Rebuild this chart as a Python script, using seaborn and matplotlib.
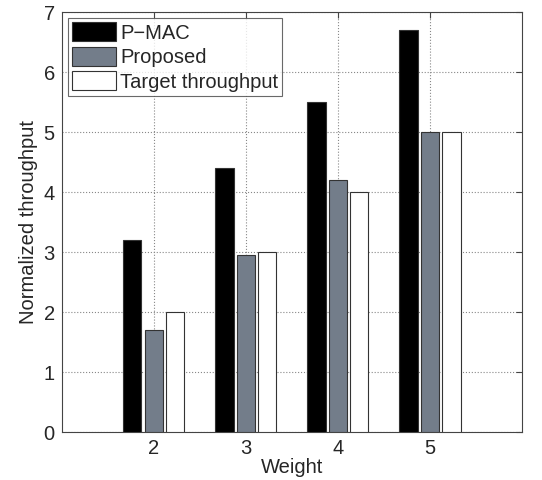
import pandas as pd
import matplotlib.pyplot as plt
import seaborn as sns

# data
weights = [2, 3, 4, 5]
pmac = [3.2, 4.4, 5.5, 6.7]
proposed = [1.7, 2.95, 4.2, 5.0]
target = [2.0, 3.0, 4.0, 5.0]
series = ["P\u2212MAC", "Proposed", "Target throughput"]
colors = ["#000000", "#6F7C8E", "#FFFFFF"]

df = pd.DataFrame({
    "Weight": weights * 3,
    "value": pmac + proposed + target,
    "series": [series[0]] * 4 + [series[1]] * 4 + [series[2]] * 4,
})

sns.set_style("white")
plt.rcParams["font.family"] = ["Liberation Sans", "DejaVu Sans"]

fig = plt.figure(figsize=(5.42, 4.8), dpi=100)
ax = fig.add_axes([0.114, 0.1, 0.849, 0.875])

sns.barplot(data=df, x="Weight", y="value", hue="series", palette=colors,
            native_scale=True, width=0.7, gap=0.15, edgecolor="#333333",
            linewidth=0.8, ax=ax, zorder=3)

ax.set_xlim(1, 6)
ax.set_ylim(0, 7)
ax.set_xticks(weights)
ax.set_yticks(range(8))
ax.grid(True, linestyle=":", color="#888888", linewidth=0.8, zorder=0)
ax.set_axisbelow(True)
ax.tick_params(direction="in", top=True, right=True, length=4, labelsize=14.5,
               color="#444444", pad=5)
for s in ax.spines.values():
    s.set_color("#444444")
    s.set_linewidth(0.8)
ax.set_xlabel("Weight", fontsize=14.5, labelpad=0)
ax.set_ylabel("Normalized throughput", fontsize=14.5, labelpad=4)

leg = ax.legend(loc="upper left", fontsize=14.5, frameon=True, fancybox=False,
                edgecolor="#444444", borderaxespad=0.3, handlelength=2.2,
                handleheight=1.1, handletextpad=0.2, labelspacing=0.2,
                borderpad=0.2)
leg.get_frame().set_linewidth(0.8)

fig.savefig("out.png", dpi=100)
